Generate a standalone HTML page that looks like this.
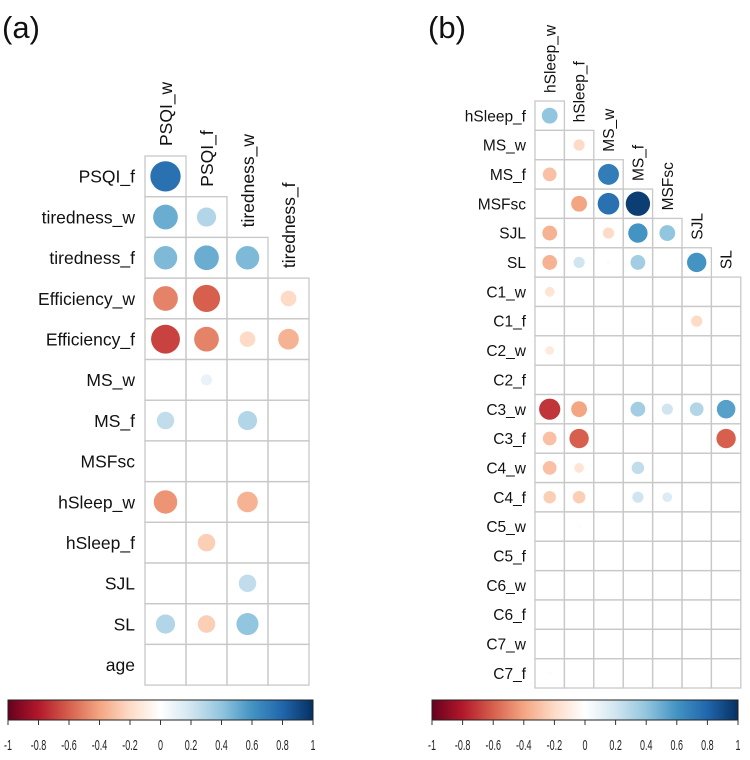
<!DOCTYPE html>
<html><head><meta charset="utf-8"><style>
html,body{margin:0;padding:0;background:#fff;}
svg{display:block;font-family:"Liberation Sans",Arial,sans-serif;}
</style></head><body>
<svg id="chart" width="750" height="760" viewBox="0 0 750 760">
<defs>
<linearGradient id="rdbu" x1="0" x2="1" y1="0" y2="0">
<stop offset="0" stop-color="#67001f"/><stop offset="0.1" stop-color="#b2182b"/><stop offset="0.2" stop-color="#d6604d"/><stop offset="0.3" stop-color="#f4a582"/><stop offset="0.4" stop-color="#fddbc7"/><stop offset="0.5" stop-color="#ffffff"/><stop offset="0.6" stop-color="#d1e5f0"/><stop offset="0.7" stop-color="#92c5de"/><stop offset="0.8" stop-color="#4393c3"/><stop offset="0.9" stop-color="#2166ac"/><stop offset="1" stop-color="#053061"/>
</linearGradient>
</defs>
<text x="2" y="38" font-size="31" fill="#111">(a)</text>
<text x="428" y="38" font-size="31" fill="#111">(b)</text>
</svg>
<script>
const aCols = ["PSQI_w","PSQI_f","tiredness_w","tiredness_f"];
const aRows = ["PSQI_f","tiredness_w","tiredness_f","Efficiency_w","Efficiency_f","MS_w","MS_f","MSFsc","hSleep_w","hSleep_f","SJL","SL","age"];
const aVals = [
 [0.75],
 [0.5,0.3],
 [0.45,0.5,0.45],
 [-0.5,-0.6,0,-0.2],
 [-0.68,-0.5,-0.2,-0.35],
 [0,0.1,0,0],
 [0.25,0,0.3,0],
 [0,0,0,0],
 [-0.45,0,-0.35,0],
 [0,-0.25,0,0],
 [0,0,0.25,0],
 [0.3,-0.25,0.4,0],
 [0,0,0,0]
];
const bCols = ["hSleep_w","hSleep_f","MS_w","MS_f","MSFsc","SJL","SL"];
const bRows = ["hSleep_f","MS_w","MS_f","MSFsc","SJL","SL","C1_w","C1_f","C2_w","C2_f","C3_w","C3_f","C4_w","C4_f","C5_w","C5_f","C6_w","C6_f","C7_w","C7_f"];
const bVals = [
 [0.4],
 [0,-0.2],
 [-0.3,0,0.7],
 [0,-0.4,0.75,0.95],
 [-0.35,0,-0.2,0.6,0.4],
 [-0.35,0.2,0.02,0.35,0,0.6],
 [-0.15,0,0,0,0,0,0],
 [0,0,0,0,0,-0.2,0],
 [-0.12,0,0,0,0,0,0],
 [0,0,0,0,0,0,0],
 [-0.72,-0.4,0,0.35,0.2,0.3,0.55],
 [-0.3,-0.6,0,0,0,0,-0.6],
 [-0.3,-0.15,0,0.25,0,0,0],
 [-0.25,-0.25,0,0.2,0.15,0,0],
 [0,0.02,0,0,0,0,0],
 [0,0,0,0,0,0,0],
 [0,0,0,0,0,0,0],
 [0,0,0,0,0,0,0],
 [0,0,0,0,0,0,0],
 [0.02,0,0,0,0,0,0]
];
const tickVals = [-1,-0.8,-0.6,-0.4,-0.2,0,0.2,0.4,0.6,0.8,1];
const tickLabels = ["-1","-0.8","-0.6","-0.4","-0.2","0","0.2","0.4","0.6","0.8","1"];

const NS="http://www.w3.org/2000/svg";
const svg=document.getElementById('chart');
function mk(tag,attrs,parent){const e=document.createElementNS(NS,tag);for(const k in attrs)e.setAttribute(k,attrs[k]);(parent||svg).appendChild(e);return e;}
const stops=[[-1,[103,0,31]],[-0.8,[178,24,43]],[-0.6,[214,96,77]],[-0.4,[244,165,130]],[-0.2,[253,219,199]],[0,[255,255,255]],[0.2,[209,229,240]],[0.4,[146,197,222]],[0.6,[67,147,195]],[0.8,[33,102,172]],[1,[5,48,97]]];
function color(v){v=Math.max(-1,Math.min(1,v));for(let i=0;i<stops.length-1;i++){const a=stops[i],b=stops[i+1];if(v<=b[0]){const t=(v-a[0])/(b[0]-a[0]);const c=a[1].map((x,j)=>Math.round(x+(b[1][j]-x)*t));return `rgb(${c.join(',')})`;}}return 'rgb(5,48,97)';}

function panel(p){
 const g=mk('g',{});
 
 
 const cw=p.cw, rh=p.rh;
 const xs=i=>p.x0+i*cw, ys=j=>p.y0+j*rh;
 p.rows.forEach((r,j)=>{
  const n=Math.min(j+1,p.cols.length);
  for(let i=0;i<n;i++){
   const c=mk('rect',{x:xs(i),y:ys(j),width:cw,height:rh,fill:'none',stroke:'#c8c8c8','stroke-width':1.3},g);
   
   
  }
  const t=mk('text',{x:p.x0-p.lpad,y:ys(j)+rh/2+p.fs*0.36,'text-anchor':'end','font-size':p.fs,fill:'#111'},g);
  t.textContent=r;
  
  
 });
 p.cols.forEach((c,i)=>{
  const x=xs(i)+cw/2+p.fs*0.36, y=ys(i)-p.tpad;
  const t=mk('text',{x:x,y:y,transform:`rotate(-90 ${x} ${y})`,'font-size':p.fs,fill:'#111'},g);
  t.textContent=c;
  
  
 });
 p.vals.forEach((row,j)=>{
  row.forEach((v,i)=>{
   if(Math.abs(v)<0.005)return;
   const r=p.maxR*Math.sqrt(Math.abs(v));
   const c=mk('circle',{cx:xs(i)+cw/2,cy:ys(j)+rh/2,r:r.toFixed(2),fill:color(v)},g);
   
   
  });
 });
 const cb=mk('g',{},g);
 
 
 mk('rect',{x:p.cbx,y:700,width:p.cbw,height:20,fill:'url(#rdbu)',stroke:'#222','stroke-width':1},cb);
 const sx=v=>p.cbx+(v+1)/2*p.cbw;
 tickVals.forEach((v,k)=>{
  mk('line',{x1:sx(v),x2:sx(v),y1:720,y2:725,stroke:'#333','stroke-width':1},cb);
  const t=mk('text',{x:sx(v),y:750,'text-anchor':'middle','font-size':15,fill:'#222',transform:`translate(${sx(v)} 0) scale(0.6 1) translate(${-sx(v)} 0)`},cb);
  t.textContent=tickLabels[k];
  
  
 });
}
panel({name:'panel-a-corrplot',rows:aRows,cols:aCols,vals:aVals,x0:145,y0:156,cw:41,rh:40.7,fs:17.5,lpad:10,tpad:10,maxR:17.5,cbx:8,cbw:305});
panel({name:'panel-b-corrplot',rows:bRows,cols:bCols,vals:bVals,x0:535,y0:101,cw:29.4,rh:29.35,fs:15.5,lpad:9,tpad:8,maxR:12.5,cbx:432,cbw:306});
</script>
</body></html>
